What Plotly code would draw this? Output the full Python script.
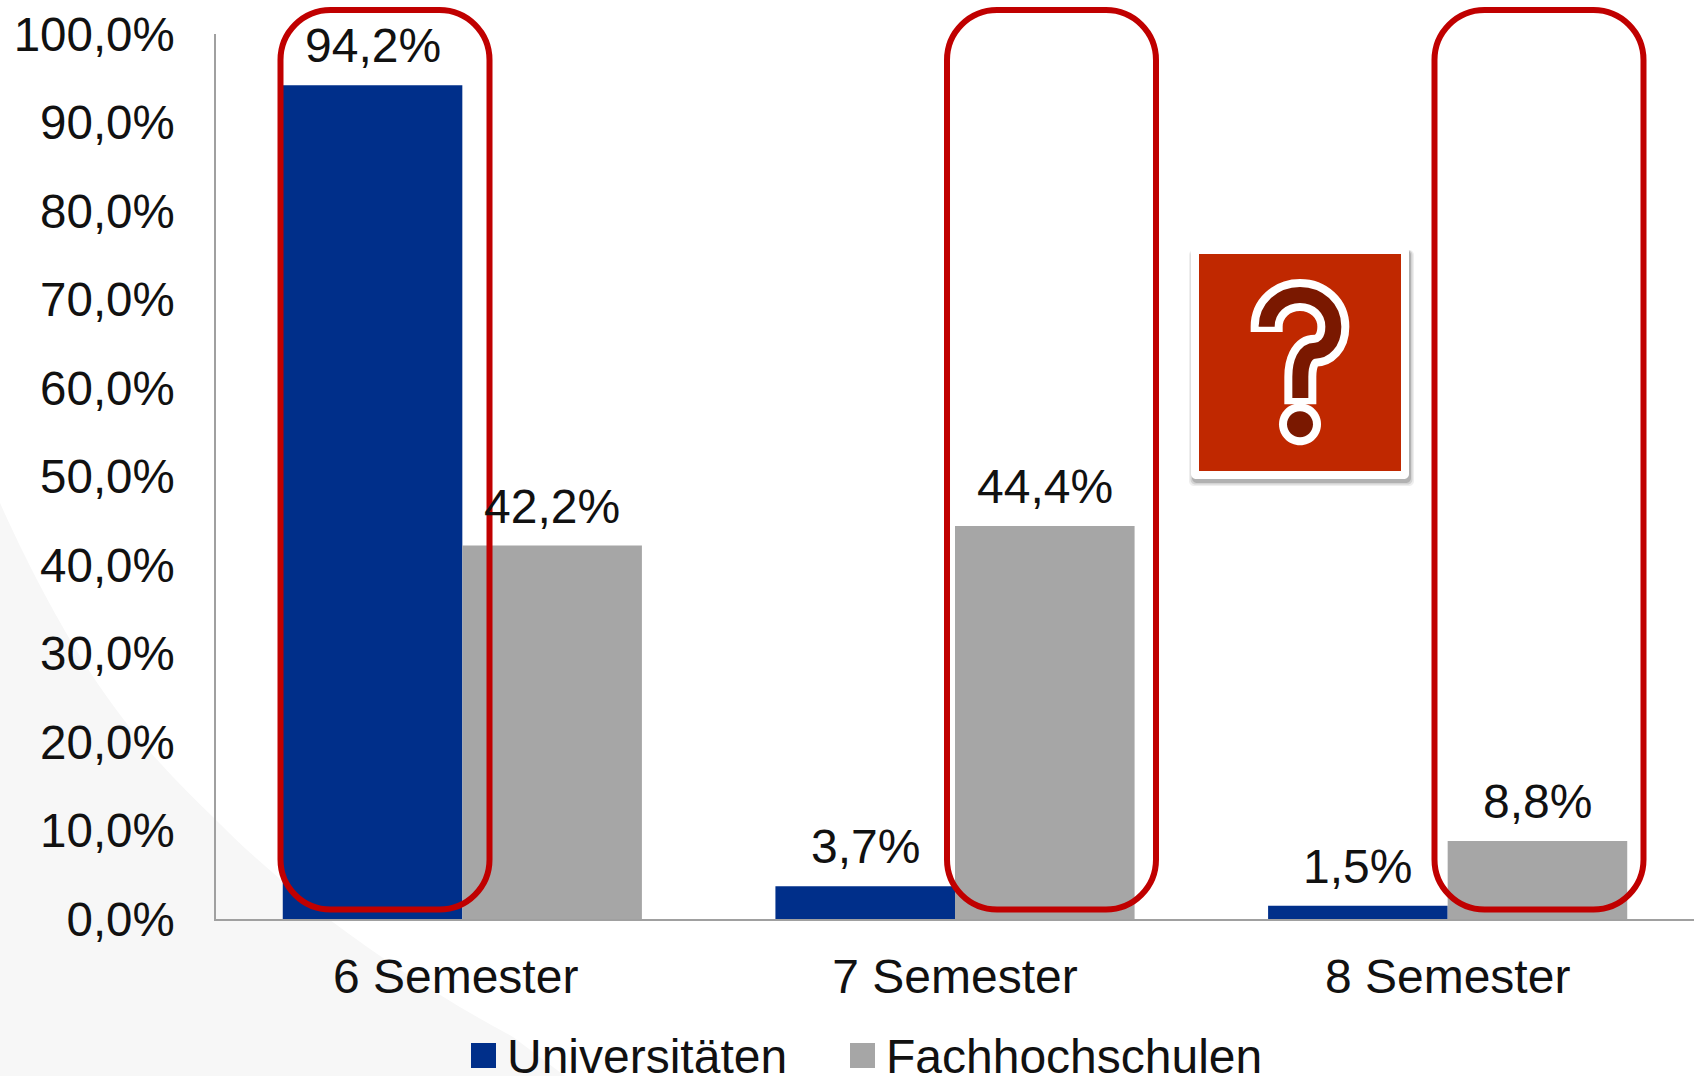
import plotly.graph_objects as go

categories = ["6 Semester", "7 Semester", "8 Semester"]
category_labels = ["6 Semester\u00a0", "7 Semester", "8 Semester"]
universitaeten = [94.2, 3.7, 1.5]
fachhochschulen = [42.2, 44.4, 8.8]
y_ticks = [0, 10, 20, 30, 40, 50, 60, 70, 80, 90, 100]
y_tick_labels = ["0,0%", "10,0%", "20,0%", "30,0%", "40,0%", "50,0%",
                 "60,0%", "70,0%", "80,0%", "90,0%", "100,0%"]
series_names = ["Universitäten", "Fachhochschulen"]
BLUE, GRAY, RED = "#002F8A", "#A6A6A6", "#C00000"
FONT = "Liberation Sans, Arial, sans-serif"

W, H = 1696, 1076
L, R, T, B = 216, 2, 34, 157


def px(x):
    return (x - L) / (W - L - R)


def py(y):
    return 1 - (y - T) / (H - T - B)


def path(cmds):
    """cmds: list of (letter, [x, y, x, y ...]) in page pixels -> paper path."""
    out = []
    for c, pts in cmds:
        if c == "Z":
            out.append("Z")
            continue
        xy = [f"{px(pts[i]):.5f},{py(pts[i + 1]):.5f}" for i in range(0, len(pts), 2)]
        out.append(c + " ".join(xy))
    return " ".join(out)


def rrect(x0, y0, x1, y1, r):
    k = r * 0.4477
    return path([
        ("M", [x0 + r, y0]), ("L", [x1 - r, y0]),
        ("C", [x1 - k, y0, x1, y0 + k, x1, y0 + r]),
        ("L", [x1, y1 - r]),
        ("C", [x1, y1 - k, x1 - k, y1, x1 - r, y1]),
        ("L", [x0 + r, y1]),
        ("C", [x0 + k, y1, x0, y1 - k, x0, y1 - r]),
        ("L", [x0, y0 + r]),
        ("C", [x0, y0 + k, x0 + k, y0, x0 + r, y0]),
        ("Z", []),
    ])


def circle(cx, cy, r):
    k = r * 0.5523
    return path([
        ("M", [cx - r, cy]),
        ("C", [cx - r, cy - k, cx - k, cy - r, cx, cy - r]),
        ("C", [cx + k, cy - r, cx + r, cy - k, cx + r, cy]),
        ("C", [cx + r, cy + k, cx + k, cy + r, cx, cy + r]),
        ("C", [cx - k, cy + r, cx - r, cy + k, cx - r, cy]),
        ("Z", []),
    ])


def zx(v):
    return 1150 + v / 3


def zy(v):
    return 220 + v / 3


def hook(y_start, y_end):
    return path([
        ("M", [zx(350), zy(y_start)]),
        ("L", [zx(350), zy(320)]),
        ("C", [zx(350), zy(265), zx(395), zy(225), zx(450), zy(225)]),
        ("C", [zx(505), zy(225), zx(550), zy(265), zx(550), zy(320)]),
        ("C", [zx(550), zy(370), zx(520), zy(392), zx(495), zy(392)]),
        ("C", [zx(465), zy(392), zx(451), zy(430), zx(451), zy(470)]),
        ("L", [zx(451), zy(y_end)]),
    ])


fig = go.Figure()
for name, vals, col in zip(series_names, [universitaeten, fachhochschulen], [BLUE, GRAY]):
    fig.add_bar(name=name, x=categories, y=vals,
                marker=dict(color=col, line_width=0), showlegend=False)

shapes = []
# pale background wedge
shapes.append(dict(
    type="path", xref="paper", yref="paper", layer="below", line_width=0,
    fillcolor="#F7F7F7",
    path=path([
        ("M", [0, 503]),
        ("C", [30, 570, 65, 635, 100, 687]),
        ("C", [140, 745, 175, 780, 213, 817]),
        ("C", [250, 855, 290, 888, 330, 920]),
        ("C", [390, 965, 450, 1003, 513, 1037]),
        ("L", [565, 1076]), ("L", [0, 1076]), ("Z", []),
    ]),
))
# red highlight frames
for x0 in (280.5, 947, 1434.5):
    shapes.append(dict(type="path", xref="paper", yref="paper", layer="above",
                       path=rrect(x0, 10, x0 + 209, 909.5, 50),
                       line=dict(color=RED, width=6)))
# icon shadow
for grow, op in ((3, 0.10), (1.5, 0.18), (0, 0.28)):
    shapes.append(dict(type="path", xref="paper", yref="paper", layer="above",
                       line_width=0, fillcolor=f"rgba(90,90,90,{op})",
                       path=rrect(1192 - grow, 250, 1411 + grow, 483 + grow, 5)))
# icon card + square
shapes.append(dict(type="path", xref="paper", yref="paper", layer="above", line_width=0,
                   fillcolor="#FFFFFF", path=rrect(1191, 246, 1409, 479, 5)))
shapes.append(dict(type="rect", xref="paper", yref="paper", layer="above", line_width=0,
                   fillcolor="#C02800", x0=px(1199), x1=px(1401), y0=py(471), y1=py(254)))
# question mark
shapes.append(dict(type="path", xref="paper", yref="paper", layer="above",
                   path=hook(336, 553), line=dict(color="#FFFFFF", width=32)))
shapes.append(dict(type="path", xref="paper", yref="paper", layer="above",
                   path=circle(zx(450), zy(613), 21), fillcolor="#FFFFFF", line_width=0))
shapes.append(dict(type="path", xref="paper", yref="paper", layer="above",
                   path=hook(314, 534), line=dict(color="#7A1800", width=16)))
shapes.append(dict(type="path", xref="paper", yref="paper", layer="above",
                   path=circle(zx(450), zy(613), 13), fillcolor="#7A1800", line_width=0))
# legend swatches
shapes.append(dict(type="rect", xref="paper", yref="paper", layer="above", line_width=0,
                   fillcolor=BLUE, x0=px(471), x1=px(496), y0=py(1068), y1=py(1043)))
shapes.append(dict(type="rect", xref="paper", yref="paper", layer="above", line_width=0,
                   fillcolor=GRAY, x0=px(850), x1=px(875), y0=py(1068), y1=py(1043)))

annotations = [
    dict(text=series_names[0], xref="paper", yref="paper", x=px(505), y=py(1056),
         xanchor="left", yanchor="middle", showarrow=False,
         font=dict(family=FONT, size=48, color="#111111")),
    dict(text=series_names[1], xref="paper", yref="paper", x=px(884), y=py(1056),
         xanchor="left", yanchor="middle", showarrow=False,
         font=dict(family=FONT, size=48, color="#111111")),
]
# value labels sit above their bars
for vals, shift in ((universitaeten, -89.75), (fachhochschulen, 89.75)):
    for c, v in zip(categories, vals):
        annotations.append(dict(
            text=f"{v:.1f}%".replace(".", ","), x=c, y=v, xref="x", yref="y",
            xshift=shift, yshift=11, yanchor="bottom", showarrow=False,
            font=dict(family=FONT, size=48, color="#111111"),
        ))

fig.update_layout(
    width=W, height=H, autosize=False,
    margin=dict(l=L, r=R, t=T, b=B, pad=0),
    paper_bgcolor="rgba(255,255,255,1)", plot_bgcolor="rgba(0,0,0,0)",
    barmode="group", bargap=0.271, bargroupgap=0,
    shapes=shapes, annotations=annotations,
    font=dict(family=FONT, color="#111111"),
    xaxis=dict(showline=True, linecolor="#A0A0A0", linewidth=1.5, ticks="", showgrid=False,
               categoryorder="array", categoryarray=categories,
               tickvals=categories, ticktext=category_labels,
               tickfont=dict(family=FONT, size=48), ticklabelstandoff=15, zeroline=False),
    yaxis=dict(range=[0, 100], tickvals=y_ticks, ticktext=y_tick_labels,
               showline=True, linecolor="#A0A0A0", linewidth=1.5, ticks="", showgrid=False,
               tickfont=dict(family=FONT, size=47.5), ticklabelstandoff=30, zeroline=False),
)

fig.write_html("out.html", config={"displayModeBar": False},
               post_script="document.body.style.margin='0';document.body.style.overflow='hidden';")
